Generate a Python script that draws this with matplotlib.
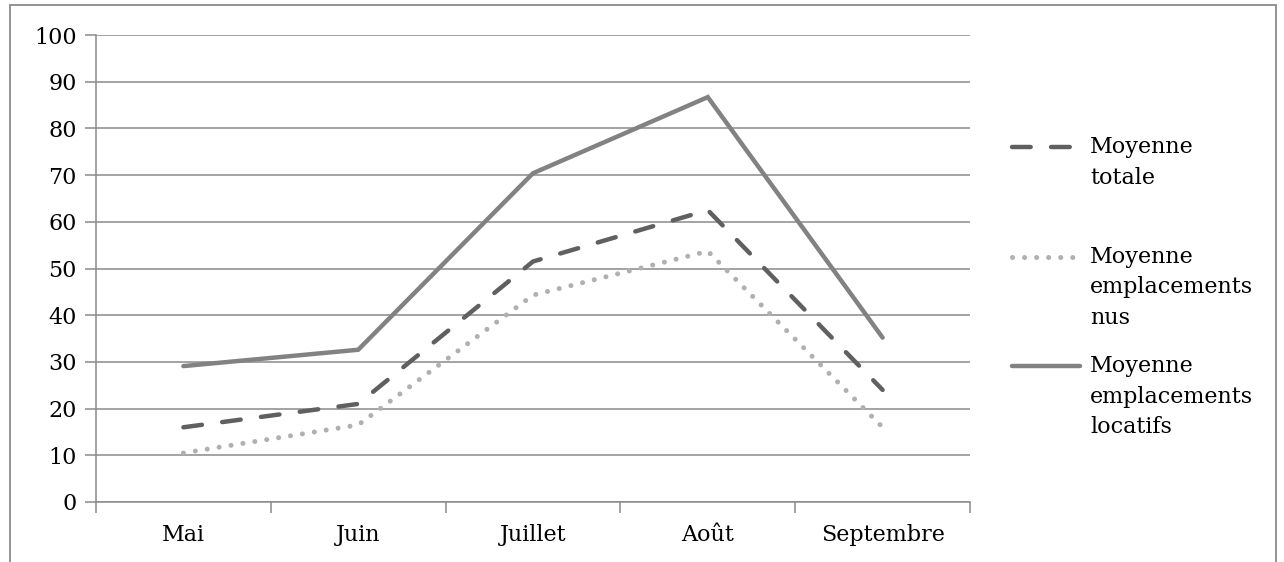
import matplotlib
matplotlib.use("Agg")
from matplotlib import pyplot as plt
from matplotlib.lines import Line2D
from matplotlib.patches import Rectangle
import numpy as np

mois = ["Mai", "Juin", "Juillet", "Août", "Septembre"]
moyenne_totale = [16, 21, 51.5, 62.5, 24]
moyenne_nus = [10.5, 16.5, 44.3, 53.7, 16]
moyenne_locatifs = [29.1, 32.6, 70.4, 86.7, 35.2]

labels = ["Moyenne\ntotale", "Moyenne\nemplacements\nnus", "Moyenne\nemplacements\nlocatifs"]

GRID = "#8a8a8a"
FS = 16
plt.rcParams["font.family"] = ["DejaVu Serif"]

fig = plt.figure(figsize=(12.84, 5.62), dpi=100)
ax = fig.add_axes([96 / 1284, 1 - 502 / 562, (970 - 96) / 1284, (502 - 35) / 562])

x = np.arange(len(mois))
styles = [
    dict(color="#606060", lw=3.2, dashes=(4.2, 4.6), dash_capstyle="round"),
    dict(color="#b0b0b0", lw=3.6, dashes=(0.01, 2.4), dash_capstyle="round"),
    dict(color="#828282", lw=3.2, linestyle="-", solid_capstyle="round"),
]
series = [moyenne_totale, moyenne_nus, moyenne_locatifs]
for vals, st in zip(series, styles):
    ax.plot(x, vals, solid_joinstyle="miter", zorder=3, **st)

ax.set_xlim(-0.5, len(mois) - 0.5)
ax.set_ylim(0, 100)
ax.set_yticks(range(0, 101, 10))
ax.set_xticks(np.arange(-0.5, len(mois)), [""] * (len(mois) + 1))
ax.set_xticks(x, mois, minor=True)
ax.tick_params(axis="x", which="major", length=8, width=1.1, color=GRID)
ax.tick_params(axis="x", which="minor", length=0, pad=16, labelsize=FS)
ax.tick_params(axis="y", length=8, width=1.1, color=GRID, pad=6, labelsize=FS)
ax.grid(axis="y", color=GRID, lw=1.1)
ax.set_axisbelow(True)
for side in ["top", "right"]:
    ax.spines[side].set_visible(False)
for side in ["left", "bottom"]:
    ax.spines[side].set_color(GRID)
    ax.spines[side].set_linewidth(1.1)

# legend, drawn by hand so the key sits on the first line like in Excel
leg_y = [147, 257, 366]
for lab, st, yy in zip(labels, styles, leg_y):
    yf = 1 - yy / 562
    fig.add_artist(Line2D([1012 / 1284, 1080 / 1284], [yf, yf],
                          transform=fig.transFigure, **st))
    fig.text(1090 / 1284, yf + 11 / 562, lab, fontsize=FS, va="top", ha="left",
             linespacing=1.5, transform=fig.transFigure)

# outer frame of the chart area (cut at the bottom)
fig.add_artist(Rectangle((10 / 1284, -0.05), 1266 / 1284, 1.05 - 5 / 562,
                         transform=fig.transFigure, fill=False,
                         edgecolor=GRID, lw=1.3))

fig.savefig("out.png", dpi=100)
